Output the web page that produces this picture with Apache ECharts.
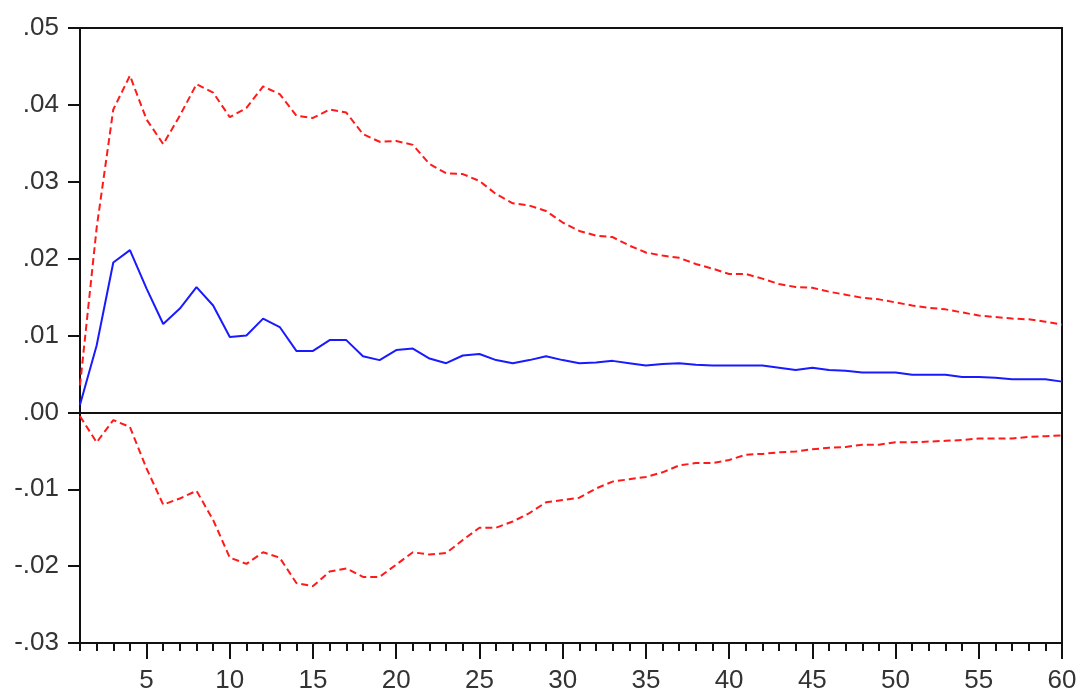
<!DOCTYPE html>
<html>
<head>
<meta charset="utf-8">
<script src="https://cdn.jsdelivr.net/npm/echarts@6/dist/echarts.min.js"></script>
<style>
  html, body { margin: 0; padding: 0; background: #fff; }
  #chart { width: 1080px; height: 694px; }
</style>
</head>
<body>
<div id="chart"></div>
<script>
// 期数 1..60
const periods = [];
for (let i = 1; i <= 60; i++) periods.push(i);

// 脉冲响应（蓝色实线）
const response = [
  0.0010, 0.0087, 0.0195, 0.0211, 0.0161, 0.0115, 0.0135, 0.0163, 0.0139, 0.0098,
  0.0100, 0.0122, 0.0111, 0.0080, 0.0080, 0.0094, 0.0094, 0.0073, 0.0068, 0.0081,
  0.0083, 0.0070, 0.0064, 0.0074, 0.0076, 0.0068, 0.0064, 0.0068, 0.0073, 0.0068,
  0.0064, 0.0065, 0.0067, 0.0064, 0.0061, 0.0063, 0.0064, 0.0062, 0.0061, 0.0061,
  0.0061, 0.0061, 0.0058, 0.0055, 0.0058, 0.0055, 0.0054, 0.0052, 0.0052, 0.0052,
  0.0049, 0.0049, 0.0049, 0.0046, 0.0046, 0.0045, 0.0043, 0.0043, 0.0043, 0.0040
];

// 上置信带（红色虚线）
const upperBand = [
  0.0035, 0.0240, 0.0394, 0.0438, 0.0381, 0.0349, 0.0386, 0.0427, 0.0416, 0.0384,
  0.0396, 0.0424, 0.0414, 0.0386, 0.0383, 0.0394, 0.0390, 0.0362, 0.0352, 0.0353,
  0.0348, 0.0323, 0.0311, 0.0310, 0.0301, 0.0284, 0.0272, 0.0269, 0.0262, 0.0247,
  0.0236, 0.0230, 0.0228, 0.0217, 0.0208, 0.0204, 0.0201, 0.0193, 0.0187, 0.0180,
  0.0180, 0.0174, 0.0167, 0.0163, 0.0162, 0.0157, 0.0153, 0.0149, 0.0147, 0.0143,
  0.0139, 0.0136, 0.0134, 0.0130, 0.0126, 0.0124, 0.0122, 0.0121, 0.0118, 0.0114
];

// 下置信带（红色虚线）
const lowerBand = [
  -0.0005, -0.0039, -0.0010, -0.0019, -0.0073, -0.0120, -0.0112, -0.0102, -0.0140, -0.0189,
  -0.0197, -0.0182, -0.0189, -0.0222, -0.0226, -0.0207, -0.0203, -0.0214, -0.0214, -0.0198,
  -0.0182, -0.0185, -0.0183, -0.0166, -0.0150, -0.0150, -0.0142, -0.0131, -0.0117, -0.0114,
  -0.0111, -0.0099, -0.0090, -0.0087, -0.0084, -0.0078, -0.0069, -0.0066, -0.0066, -0.0062,
  -0.0055, -0.0054, -0.0052, -0.0051, -0.0048, -0.0046, -0.0045, -0.0042, -0.0042, -0.0039,
  -0.0039, -0.0038, -0.0037, -0.0036, -0.0034, -0.0034, -0.0034, -0.0032, -0.0031, -0.0030
];

const labelFont = { color: "#333", fontSize: 26, fontFamily: "Liberation Sans, Arial, sans-serif" };

const myChart = echarts.init(document.getElementById("chart"), null, { renderer: "canvas" });

myChart.setOption({
  animation: false,
  grid: {
    left: 80, right: 18, top: 28, bottom: 48,
    show: true, borderColor: "#111", borderWidth: 2
  },
  xAxis: [
    {
      // 每期一个短刻度，5 的倍数显示标签
      type: "category",
      data: periods,
      boundaryGap: false,
      axisLine: { onZero: false, lineStyle: { color: "#111", width: 2 } },
      axisTick: { length: 8, interval: 0, lineStyle: { color: "#111", width: 2 } },
      axisLabel: Object.assign({
        margin: 25,
        interval: (idx, val) => Number(val) % 5 === 0
      }, labelFont),
      splitLine: { show: false }
    },
    {
      // 5 的倍数处长刻度
      type: "category",
      data: periods,
      boundaryGap: false,
      position: "bottom",
      axisLine: { show: false, onZero: false },
      axisTick: {
        length: 16,
        interval: (idx, val) => Number(val) % 5 === 0,
        lineStyle: { color: "#111", width: 2 }
      },
      axisLabel: { show: false },
      splitLine: { show: false }
    }
  ],
  yAxis: {
    type: "value",
    min: -0.03,
    max: 0.05,
    interval: 0.01,
    axisLine: { show: true, lineStyle: { color: "#111", width: 2 } },
    axisTick: { show: true, length: 12, lineStyle: { color: "#111", width: 2 } },
    axisLabel: Object.assign({
      margin: 21,
      formatter: (v) => v.toFixed(2).replace("0.", ".")
    }, labelFont),
    splitLine: { show: false }
  },
  series: [
    {
      name: "response",
      type: "line",
      data: response,
      symbol: "none",
      lineStyle: { color: "#1a1aff", width: 2 },
      markLine: {
        silent: true,
        symbol: "none",
        label: { show: false },
        lineStyle: { color: "#111", width: 2, type: "solid" },
        data: [{ yAxis: 0 }]
      },
      z: 3
    },
    {
      name: "upper",
      type: "line",
      data: upperBand,
      symbol: "none",
      lineStyle: { color: "#ff1a1a", width: 2, type: [7, 4] }
    },
    {
      name: "lower",
      type: "line",
      data: lowerBand,
      symbol: "none",
      lineStyle: { color: "#ff1a1a", width: 2, type: [7, 4] }
    }
  ]
});
</script>
</body>
</html>
